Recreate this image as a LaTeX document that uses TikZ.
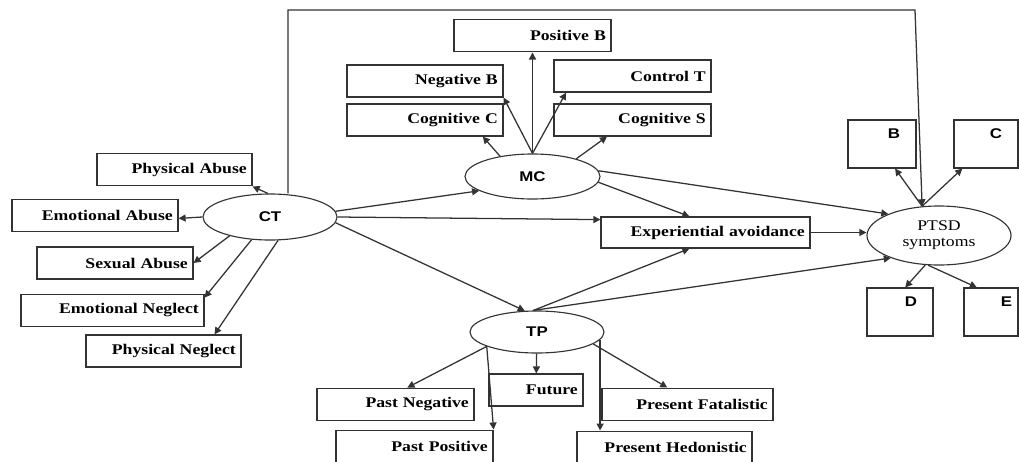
\documentclass[tikz,border=0pt]{standalone}
\usepackage{fontspec}
\setmainfont{Liberation Serif}[FakeStretch=1.2]
\newfontfamily\lblsans{Liberation Sans}[FakeStretch=1.2]
\usetikzlibrary{arrows.meta,shapes.geometric}
\tikzset{
  ind/.style={draw=black!80, line width=0.8pt, text width=#1, align=right,
    inner xsep=0.13cm, inner ysep=0pt, minimum height=0.82cm,
    font=\fontsize{10.5}{12}\selectfont\bfseries},
  sym/.style={draw=black!80, line width=0.8pt, text width=#1, align=right,
    inner xsep=0.4cm, inner ysep=0.2cm, text height=0.25cm, text depth=0.55cm,
    font=\lblsans\bfseries},
  lat/.style={draw=black!80, line width=0.8pt, ellipse, inner sep=0pt,
    font=\lblsans\bfseries},
  arr/.style={draw=black!80, line width=0.9pt, -{Triangle[length=5pt,width=5pt]}}
}
\begin{document}
\begin{tikzpicture}[x=0.025cm,y=-0.025cm]
\useasboundingbox (0,0) rectangle (1019,461);
% latent variables
\node [lat, minimum width=3.35cm, minimum height=1.15cm] (ct) at (270,217) {CT};
\node [lat, minimum width=3.375cm, minimum height=1.125cm] (mc) at (532.5,176.5) {MC};
\node [lat, minimum width=3.35cm, minimum height=1.05cm] (tp) at (537,332) {TP};
\node [lat, minimum width=3.6cm, minimum height=1.475cm, font=\fontsize{10.5}{11.5}\selectfont, align=center] (ptsd) at (939,235.5) {PTSD\\symptoms};
\node [ind=4.965cm, minimum height=0.775cm] (expav) at (705.5,232.5) {Experiential avoidance};
% CT indicators
\node [ind=3.615cm] (pa) at (174.5,169.5) {Physical Abuse};
\node [ind=3.89cm] (ea) at (95,215.5) {Emotional Abuse};
\node [ind=3.64cm, minimum height=0.8cm] (sa) at (115,263) {Sexual Abuse};
\node [ind=4.315cm] (en) at (112.5,310.5) {Emotional Neglect};
\node [ind=3.615cm, minimum height=0.8cm] (pn) at (163.5,351) {Physical Neglect};
% MC indicators
\node [ind=3.665cm] (posb) at (532.5,35.5) {Positive B};
\node [ind=3.64cm, minimum height=0.8cm] (negb) at (425,81) {Negative B};
\node [ind=3.64cm, minimum height=0.8cm] (cogc) at (425,120) {Cognitive C};
\node [ind=3.665cm, minimum height=0.8cm] (ctrt) at (632.5,76) {Control T};
\node [ind=3.665cm, minimum height=0.8cm] (cogs) at (632.5,120) {Cognitive S};
% TP indicators
\node [ind=2.09cm, minimum height=0.8cm] (fut) at (536,390) {Future};
\node [ind=3.665cm] (pneg) at (395.5,404.5) {Past Negative};
\node [ind=3.665cm] (ppos) at (414.5,446.5) {Past Positive};
\node [ind=4.015cm] (pfat) at (687.5,404.5) {Present Fatalistic};
\node [ind=4.115cm] (phed) at (664.5,447.5) {Present Hedonistic};
% PTSD indicators
\node [sym=0.9cm] (b) at (882,144) {B};
\node [sym=0.8cm] (c) at (986,144) {C};
\node [sym=0.85cm] (d) at (900,312) {D};
\node [sym=1.05cm, inner xsep=0.15cm] (e) at (991,312) {E};
% CT paths
\draw [arr] (ct.95) -- (pa.south east);
\draw [arr] (ct.west) -- (ea.-2);
\draw [arr] (ct.205) -- (sa.east);
\draw [arr] (ct.231) -- (en.8);
\draw [arr] (ct.289) -- (pn.18);
\coordinate (tl) at (288,10);
\coordinate (tr) at (915,10);
\draw [arr] (ct.north -| tl) -- (tl) -- (tr) -- (ptsd.120);
\draw [arr] (ct.5) -- (mc.195);
\draw [arr] (ct.east) -- (expav.173);
\draw [arr] (ct.-5) -- (tp.120);
% MC paths
\draw [arr] (mc.north) -- (posb.south);
\draw [arr] (mc.north) -- (negb.south east);
\draw [arr] (mc.north) -- (ctrt.194);
\draw [arr] (mc.148) -- (cogc.-16);
\draw [arr] (mc.22) -- (cogs.213);
\draw [arr] (mc.5) -- (ptsd.157);
\draw [arr] (mc.-5) -- (expav.135);
% TP paths
\draw [arr] (tp.100) -- (expav.225);
\draw [arr] (tp.100) -- (ptsd.205);
\draw [arr] (tp.196) -- (pneg.55);
\draw [arr] (tp.196) -- (ppos.north east);
\draw [arr] (tp) -- (fut);
\draw [arr] (tp.-12) -- (pfat.140);
\draw [arr] (tp.-7) -- (tp.-7 |- phed.north);
% PTSD paths
\draw [arr] (expav.east) -- (expav.east -| ptsd.west);
\draw [arr] (ptsd.120) -- (b.-62);
\draw [arr] (ptsd.120) -- (c.226);
\draw [arr] (ptsd.245) -- (d.78);
\draw [arr] (ptsd.250) -- (e.120);
\end{tikzpicture}
\end{document}
